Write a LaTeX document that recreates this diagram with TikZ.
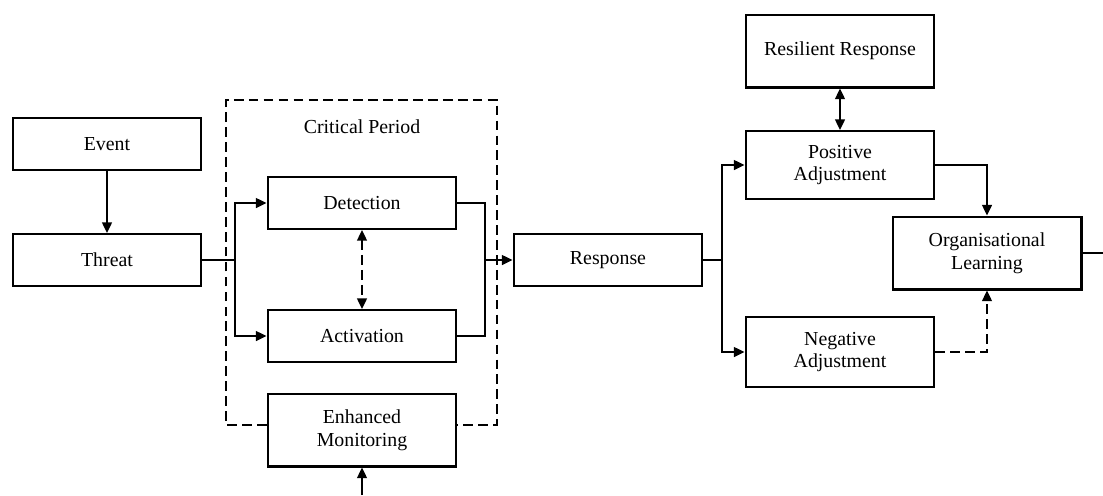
\documentclass[tikz,border=0pt]{standalone}
\usepackage{fontspec}
\setmainfont{Liberation Serif}
\usetikzlibrary{arrows.meta}

\begin{document}
\begin{tikzpicture}[x=0.02cm, y=-0.02cm, >={Triangle[length=6pt,width=5.5pt]},
        box/.style={draw, line width=1.15pt, minimum width=3.78cm, minimum height=1.04cm, align=center, font=\fontsize{11.3}{13}\selectfont},
        tallbox/.style={box, minimum height=1.46cm},
        conn/.style={line width=1.15pt},
        dashline/.style={line width=1.15pt, dash pattern=on 5.5pt off 3pt}]
        \useasboundingbox (0,0) rectangle (1103,495);
        \node[box] (event) at (107,144) {Event};
        \node[box] (threat) at (107,260) {Threat};
        \node[box] (detection) at (362,203) {Detection};
        \node[box] (activation) at (362,336) {Activation};
        \node[tallbox] (monitoring) at (362,430) {Enhanced\\Monitoring};
        \node[font=\fontsize{11.3}{13}\selectfont] (critical) at (362,127) {Critical Period};
        \node[box] (response) at (608,260) {Response};
        \node[tallbox] (resilient) at (840,51) {Resilient Response};
        \node[tallbox, minimum height=1.36cm] (positive) at (840,165) {Positive\\Adjustment};
        \node[tallbox, minimum height=1.4cm] (negative) at (840,352) {Negative\\Adjustment};
        \node[tallbox] (learning) at (987,253) {Organisational\\Learning};
        \coordinate (cpTL) at (226,100);
        \coordinate (cpBR) at (497,425);
        \coordinate (split) at (235,260);
        \coordinate (merge) at (485,260);
        \coordinate (fork) at (722,260);
        \coordinate (input) at (362,495);
        \coordinate (output) at (1103,253);
        \draw[dashline] (monitoring.west |- cpBR) -| (cpTL) -| (cpBR) -- (monitoring.east |- cpBR);
        \draw[conn,->] (event) -- (threat);
        \draw[conn,->] (threat.east) -- (split) |- (detection.west);
        \draw[conn,->] (split) |- (activation.west);
        \draw[conn] (detection.east) -| (merge);
        \draw[conn] (activation.east) -| (merge);
        \draw[conn,->] (merge) -- (response.west);
        \draw[dashline,<->] (detection) -- (activation);
        \draw[conn,->] (input) -- (monitoring.south);
        \draw[conn,->] (response.east) -- (fork) |- (positive.west);
        \draw[conn,->] (fork) |- (negative.west);
        \draw[conn,<->] (resilient) -- (positive);
        \draw[conn,->] (positive.east) -| (learning.north);
        \draw[dashline,->] (negative.east) -| (learning.south);
        \draw[conn] (learning.east) -- (output);
    \end{tikzpicture}
\end{document}
